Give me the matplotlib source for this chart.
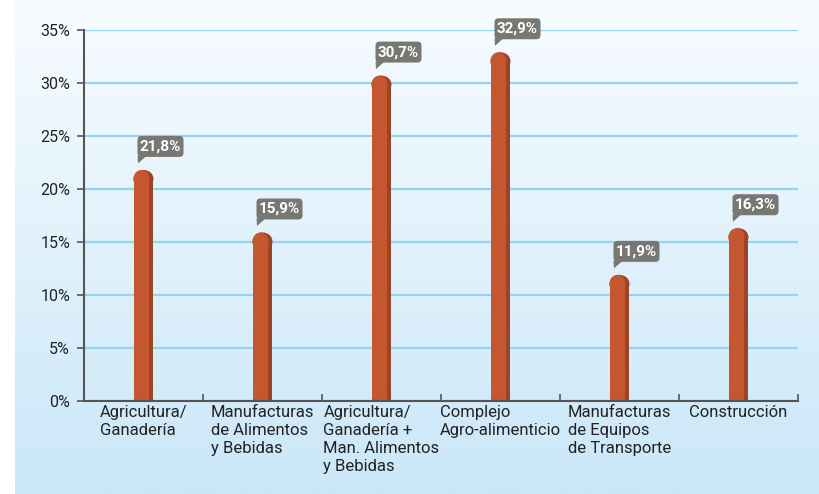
import numpy as np
import matplotlib
matplotlib.use("Agg")
import matplotlib.pyplot as plt
import matplotlib.transforms as mtransforms
from matplotlib.patches import FancyBboxPatch, Polygon, Ellipse, Rectangle

plt.rcParams['font.family'] = ['Roboto', 'DejaVu Sans']

# datos
categorias = ["Agricultura/\nGanadería",
              "Manufacturas\nde Alimentos\ny Bebidas",
              "Agricultura/\nGanadería +\nMan. Alimentos\ny Bebidas",
              "Complejo\nAgro-alimenticio",
              "Manufacturas\nde Equipos\nde Transporte",
              "Construcción"]
valores = [21.8, 15.9, 30.7, 32.9, 11.9, 16.3]
etiquetas = ["21,8%", "15,9%", "30,7%", "32,9%", "11,9%", "16,3%"]
yticks = [0, 5, 10, 15, 20, 25, 30, 35]

color_barra = '#c4572f'
color_sombra = '#9b4426'
color_caja = '#787872'

fig = plt.figure(figsize=(8.19, 4.94), dpi=100)

# fondo degradado
bg = fig.add_axes([15 / 819, 0, 1 - 15 / 819, 1], zorder=-10)
grad = np.linspace(0, 1, 256).reshape(-1, 1)
cmap = matplotlib.colors.LinearSegmentedColormap.from_list('bg', ['#f8fcff', '#cae7f8'])
bg.imshow(grad, aspect='auto', cmap=cmap, extent=[0, 1, 0, 1], origin='upper')
bg.axis('off')

ax = fig.add_axes([84 / 819, (494 - 401) / 494, (798 - 84) / 819, 371 / 494])
ax.set_facecolor('none')
x = np.arange(len(valores))
ax.set_xlim(-0.5, len(valores) - 0.5)
ax.set_ylim(0, 35)

# grid
ax.set_yticks(yticks)
ax.set_yticklabels([f"{t}%" for t in yticks], fontsize=11.5, color='#222222')
ax.yaxis.grid(True, color='#93d4f1', linewidth=1.6, zorder=0)
ax.set_axisbelow(True)

for s in ['top', 'right']:
    ax.spines[s].set_visible(False)
for s in ['left', 'bottom']:
    ax.spines[s].set_color('#555555')
    ax.spines[s].set_linewidth(1.5)
    ax.spines[s].set_zorder(5)
ax.tick_params(axis='y', length=5, width=1.2, color='#555555', pad=5)

ax.set_xticks(x)
ax.set_xticklabels(categorias, fontsize=12, color='#222222', ha='center',
                   multialignment='left', linespacing=1.25, va='top')
ax.tick_params(axis='x', length=0, pad=3)
ax.set_xticks(np.arange(len(valores)) + 0.5, minor=True)
ax.tick_params(axis='x', which='minor', direction='in', length=5, width=1.2, color='#555555')

# barras con punta redondeada
ancho = 0.168
px_y = 35 / 371.0
radio = 9 * px_y
for xi, v in zip(x, valores):
    ax.add_patch(Rectangle((xi - ancho / 2, 0), ancho, v - radio, color=color_sombra, zorder=3, lw=0))
    ax.add_patch(Ellipse((xi, v - radio), ancho, 2 * radio, color=color_sombra, zorder=3, lw=0))
    w2 = ancho * 0.8
    ax.add_patch(Rectangle((xi - ancho / 2, 0), w2, v - radio, color=color_barra, zorder=4, lw=0))
    ax.add_patch(Ellipse((xi - ancho / 2 + w2 / 2, v - radio), w2, 2 * radio,
                         color=color_barra, zorder=4, lw=0))

# etiquetas tipo globo
for xi, v, lab in zip(x, valores, etiquetas):
    tr = fig.dpi_scale_trans + mtransforms.ScaledTranslation(xi, v, ax.transData)
    caja = FancyBboxPatch((-0.06, 0.13), 0.46, 0.21,
                          boxstyle="round,pad=0,rounding_size=0.04",
                          transform=tr, color=color_caja, zorder=6, lw=0, clip_on=False)
    ax.add_patch(caja)
    ax.add_patch(Polygon([[-0.06, 0.14], [-0.055, 0.065], [0.03, 0.14]], closed=True,
                         transform=tr, color=color_caja, zorder=6, lw=0, clip_on=False))
    ax.text(0.17, 0.235, lab, transform=tr, ha='center', va='center', color='white',
            fontsize=11, fontweight='bold', zorder=7, clip_on=False)

fig.savefig('out.png', dpi=100)
